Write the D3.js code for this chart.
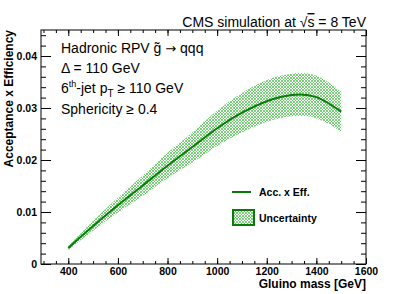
<!DOCTYPE html>
<html>
<head>
<meta charset="utf-8">
<script src="https://cdn.jsdelivr.net/npm/d3@7"></script>
<style>
  body { margin: 0; background: #fff; }
  svg { font-family: "Liberation Sans", Arial, sans-serif; }
  .tick text { font-weight: bold; font-size: 10.5px; fill: #000; }
  .tick line { stroke: #000; }
</style>
</head>
<body>
<svg width="407" height="294"></svg>
<script>
"use strict";

// gluino mass points [GeV] and acceptance x efficiency
const masses = [400, 500, 600, 700, 800, 900, 1000, 1100, 1200, 1300, 1400, 1500];
const accEff = [0.0031, 0.0073, 0.0113, 0.0151, 0.0189, 0.0225, 0.0261, 0.0291, 0.0313, 0.0325, 0.0321, 0.0293];
const uncUp = [0.0035, 0.0083, 0.0128, 0.0170, 0.0214, 0.0253, 0.0295, 0.0329, 0.0354, 0.0366, 0.0362, 0.0331];
const uncDown = [0.0027, 0.0064, 0.0099, 0.0131, 0.0165, 0.0195, 0.0227, 0.0253, 0.0273, 0.0284, 0.0280, 0.0255];

const xMajor = [400, 600, 800, 1000, 1200, 1400, 1600];
const xMinor = d3.range(300, 1601, 50);
const yMajor = [0, 0.01, 0.02, 0.03, 0.04];
const yMinor = d3.range(0, 0.0451, 0.002);

const svg = d3.select("svg");
const plotL = 41, plotR = 366, plotT = 30, plotB = 264;
const green = "#0b7a0b";

const x = d3.scaleLinear().domain([290, 1600]).range([plotL, plotR]);
const y = d3.scaleLinear().domain([0, 0.045]).range([plotB, plotT]);

const defs = svg.append("defs");
const hatch = defs.append("pattern")
  .attr("id", "hatch")
  .attr("patternUnits", "userSpaceOnUse")
  .attr("width", 3)
  .attr("height", 3);
hatch.append("path")
  .attr("d", "M0,0 L3,3 M3,0 L0,3")
  .attr("stroke", "#58c858")
  .attr("stroke-width", 0.8)
  .attr("fill", "none");

const pts = masses.map((m, i) => ({ m, v: accEff[i], hi: uncUp[i], lo: uncDown[i] }));

svg.append("path")
  .datum(pts)
  .attr("fill", "url(#hatch)")
  .attr("d", d3.area()
    .curve(d3.curveNatural)
    .x(d => x(d.m))
    .y0(d => y(d.lo))
    .y1(d => y(d.hi)));

svg.append("path")
  .datum(pts)
  .attr("fill", "none")
  .attr("stroke", green)
  .attr("stroke-width", 2)
  .attr("d", d3.line()
    .curve(d3.curveNatural)
    .x(d => x(d.m))
    .y(d => y(d.v)));

// axes: ticks on all four sides, pointing inward
const addAxis = (axis, tx, ty, labels) => {
  const g = svg.append("g")
    .attr("transform", `translate(${tx},${ty})`)
    .call(axis);
  g.select(".domain").remove();
  if (!labels) g.selectAll("text").remove();
  return g;
};

addAxis(d3.axisBottom(x).tickValues(xMinor).tickSize(-3).tickFormat(""), 0, plotB, false);
addAxis(d3.axisBottom(x).tickValues(xMajor).tickSize(-6).tickPadding(4)
  .tickFormat(d3.format("d")), 0, plotB, true);
addAxis(d3.axisTop(x).tickValues(xMinor).tickSize(-3), 0, plotT, false);
addAxis(d3.axisTop(x).tickValues(xMajor).tickSize(-6), 0, plotT, false);

addAxis(d3.axisLeft(y).tickValues(yMinor).tickSize(-5).tickFormat(""), plotL, 0, false);
addAxis(d3.axisLeft(y).tickValues(yMajor).tickSize(-10).tickPadding(4)
  .tickFormat(d => d === 0 ? "0" : d3.format(".2f")(d)), plotL, 0, true);
addAxis(d3.axisRight(y).tickValues(yMinor).tickSize(-5), plotR, 0, false);
addAxis(d3.axisRight(y).tickValues(yMajor).tickSize(-10), plotR, 0, false);

svg.append("rect")
  .attr("x", plotL).attr("y", plotT)
  .attr("width", plotR - plotL).attr("height", plotB - plotT)
  .attr("fill", "none").attr("stroke", "#000");

// titles
const title = svg.append("text")
  .attr("x", plotR).attr("y", 27)
  .attr("text-anchor", "end")
  .attr("font-size", 14);
title.append("tspan").text("CMS simulation at \u221A");
title.append("tspan").style("text-decoration", "overline").text("s");
title.append("tspan").text(" = 8 TeV");

svg.append("text")
  .attr("x", plotR).attr("y", 288)
  .attr("text-anchor", "end")
  .attr("font-size", 12)
  .attr("font-weight", "bold")
  .text("Gluino mass [GeV]");

svg.append("text")
  .attr("transform", "translate(13,30) rotate(-90)")
  .attr("text-anchor", "end")
  .attr("font-size", 12)
  .attr("font-weight", "bold")
  .text("Acceptance x Efficiency");

// selection annotations
const notes = svg.append("g").attr("font-size", 14);
const t1 = notes.append("text").attr("x", 61).attr("y", 53);
t1.append("tspan").text("Hadronic RPV ");
t1.append("tspan").text("g\u0303");
t1.append("tspan").text(" ");
t1.append("tspan").attr("font-family", "DejaVu Sans").attr("font-size", 13).text("\u2192");
t1.append("tspan").text(" qqq");

notes.append("text").attr("x", 61).attr("y", 73).text("\u0394 = 110 GeV");

const t3 = notes.append("text").attr("x", 61).attr("y", 93);
t3.append("tspan").text("6");
t3.append("tspan").attr("font-size", 9).attr("dy", -6).text("th");
t3.append("tspan").attr("dy", 6).text("-jet p");
t3.append("tspan").attr("font-size", 10).attr("dy", 4).text("T");
t3.append("tspan").attr("dy", -4).text(" \u2265 110 GeV");

notes.append("text").attr("x", 61).attr("y", 114).text("Sphericity \u2265 0.4");

// legend
const legend = svg.append("g").attr("font-size", 10.5).attr("font-weight", "bold");
legend.append("line")
  .attr("x1", 232).attr("x2", 251).attr("y1", 192).attr("y2", 192)
  .attr("stroke", green).attr("stroke-width", 2);
legend.append("text").attr("x", 259).attr("y", 196).text("Acc. x Eff.");
legend.append("rect")
  .attr("x", 233).attr("y", 210).attr("width", 21).attr("height", 15)
  .attr("fill", "url(#hatch)")
  .attr("stroke", green).attr("stroke-width", 2);
legend.append("text").attr("x", 259).attr("y", 222).text("Uncertainty");
</script>
</body>
</html>
